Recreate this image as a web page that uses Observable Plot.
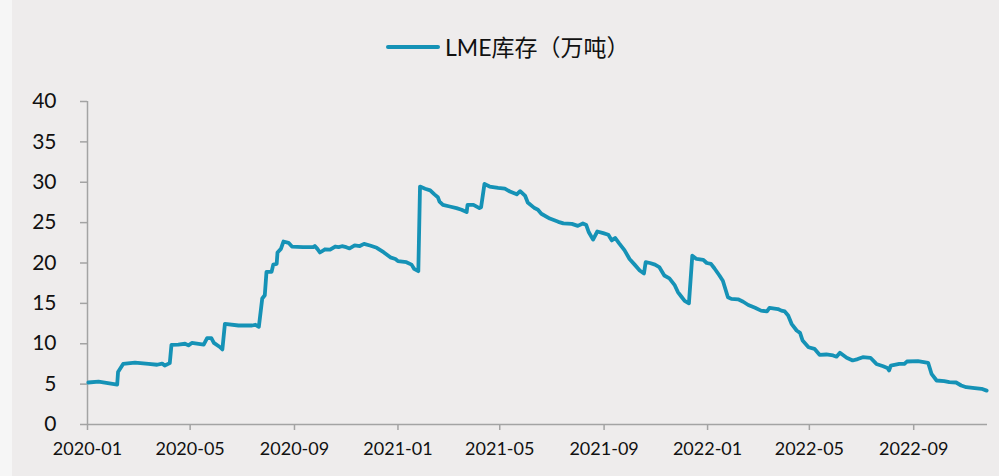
<!DOCTYPE html>
<html>
<head>
<meta charset="utf-8">
<script src="https://cdn.jsdelivr.net/npm/d3@7"></script>
<script src="https://cdn.jsdelivr.net/npm/@observablehq/plot@0.6"></script>
<style>
  html, body { margin: 0; padding: 0; }
  body { width: 999px; height: 476px; background: #f6f6f6; overflow: hidden; font-family: Lato, "Noto Sans", sans-serif; }
  #panel { position: absolute; left: 12px; top: 0; width: 987px; height: 476px; background: #eeecec; }
  #legend { position: absolute; left: 0; top: 0; width: 999px; height: 80px; }
  #swatch { position: absolute; left: 386px; top: 45px; width: 54px; height: 4px; background: #1592b6; border-radius: 2px; }
  #ltext { position: absolute; left: 445px; top: 32px; font-size: 23px; line-height: 30px; color: #111; font-family: Lato, "Noto Sans CJK SC", sans-serif; white-space: nowrap; }
  #chart { position: absolute; left: 0; top: 80px; }
</style>
</head>
<body>
<div id="panel"></div>
<div id="legend"><div id="swatch"></div><div id="ltext">LME库存（万吨）</div></div>
<div id="chart"></div>
<script>
const seriesName = "LME库存（万吨）";
const dates = [
  "2020-01-02","2020-01-14","2020-02-05","2020-02-06","2020-02-12","2020-02-26","2020-03-13","2020-03-23","2020-03-29","2020-04-01",
  "2020-04-07","2020-04-09","2020-04-17","2020-04-25","2020-04-29","2020-05-03","2020-05-17","2020-05-21","2020-05-26","2020-05-29",
  "2020-06-05","2020-06-08","2020-06-11","2020-06-27","2020-07-13","2020-07-17","2020-07-21","2020-07-25","2020-07-28","2020-07-30",
  "2020-08-05","2020-08-07","2020-08-11","2020-08-12","2020-08-16","2020-08-19","2020-08-25","2020-08-29","2020-09-11","2020-09-23",
  "2020-09-25","2020-09-28","2020-10-01","2020-10-07","2020-10-13","2020-10-19","2020-10-23","2020-10-27","2020-11-01","2020-11-05",
  "2020-11-11","2020-11-17","2020-11-22","2020-11-29","2020-12-07","2020-12-15","2020-12-23","2020-12-29","2021-01-01","2021-01-11",
  "2021-01-17","2021-01-20","2021-01-25","2021-01-27","2021-02-02","2021-02-08","2021-02-13","2021-02-17","2021-02-19","2021-02-23",
  "2021-03-03","2021-03-11","2021-03-17","2021-03-23","2021-03-24","2021-03-31","2021-04-07","2021-04-09","2021-04-13","2021-04-19",
  "2021-04-29","2021-05-07","2021-05-13","2021-05-21","2021-05-25","2021-05-31","2021-06-03","2021-06-11","2021-06-15","2021-06-19",
  "2021-06-29","2021-07-09","2021-07-15","2021-07-25","2021-08-01","2021-08-07","2021-08-11","2021-08-14","2021-08-19","2021-08-24",
  "2021-08-31","2021-09-06","2021-09-10","2021-09-14","2021-09-19","2021-09-25","2021-10-01","2021-10-07","2021-10-13","2021-10-18",
  "2021-10-20","2021-10-25","2021-10-31","2021-11-05","2021-11-11","2021-11-17","2021-11-23","2021-11-27","2021-12-01","2021-12-05",
  "2021-12-10","2021-12-14","2021-12-19","2021-12-27","2021-12-31","2022-01-05","2022-01-09","2022-01-15","2022-01-19","2022-01-25",
  "2022-01-29","2022-02-06","2022-02-12","2022-02-18","2022-02-26","2022-03-05","2022-03-12","2022-03-15","2022-03-25","2022-03-29",
  "2022-04-02","2022-04-06","2022-04-10","2022-04-16","2022-04-20","2022-04-23","2022-04-30","2022-05-07","2022-05-13","2022-05-21",
  "2022-05-29","2022-06-02","2022-06-06","2022-06-14","2022-06-21","2022-06-27","2022-07-03","2022-07-12","2022-07-19","2022-07-27",
  "2022-08-01","2022-08-03","2022-08-05","2022-08-15","2022-08-21","2022-08-24","2022-09-06","2022-09-18","2022-09-22","2022-09-28",
  "2022-10-07","2022-10-13","2022-10-21","2022-10-27","2022-11-02","2022-11-12","2022-11-20","2022-11-26"
];
const values = [
  5.2,5.3,4.95,6.5,7.5,7.65,7.5,7.4,7.55,7.3,
  7.6,9.87,9.9,10.0,9.8,10.1,9.9,10.7,10.7,10.1,
  9.6,9.3,12.47,12.26,12.26,12.35,12.1,15.6,16.0,18.9,
  18.9,19.8,19.9,21.3,21.75,22.66,22.5,22.04,21.96,21.96,
  22.1,21.75,21.3,21.7,21.65,22.04,21.96,22.08,21.96,21.8,
  22.17,22.1,22.37,22.17,21.88,21.34,20.7,20.5,20.23,20.1,
  19.8,19.28,18.99,29.47,29.2,29.0,28.5,28.15,27.6,27.2,
  27.0,26.8,26.6,26.3,27.2,27.2,26.8,26.9,29.8,29.47,
  29.3,29.2,28.85,28.5,28.9,28.3,27.5,26.8,26.6,26.1,
  25.5,25.1,24.9,24.85,24.6,24.9,24.7,23.8,22.9,23.9,
  23.7,23.5,22.8,23.1,22.4,21.6,20.5,19.8,19.07,18.7,
  20.1,20.0,19.8,19.5,18.45,18.1,17.3,16.4,15.85,15.3,
  15.0,20.9,20.5,20.4,20.0,19.9,19.35,18.45,17.8,15.76,
  15.56,15.5,15.2,14.8,14.45,14.1,14.0,14.45,14.3,14.1,
  14.0,13.5,12.47,11.64,11.35,10.4,9.57,9.37,8.63,8.67,
  8.55,8.4,8.88,8.26,7.93,8.1,8.34,8.26,7.5,7.22,
  7.0,6.69,7.3,7.5,7.5,7.8,7.84,7.64,6.28,5.45,
  5.37,5.24,5.2,4.83,4.62,4.5,4.42,4.2
];
const yTicks = [0,5,10,15,20,25,30,35,40];
const xTickLabels = ["2020-01","2020-05","2020-09","2021-01","2021-05","2021-09","2022-01","2022-05","2022-09"];
const xDomain = ["2020-01-01","2022-11-27"];

const parse = d3.utcParse("%Y-%m-%d");
const parseM = d3.utcParse("%Y-%m");
const data = dates.map((d, i) => ({date: parse(d), value: values[i]}));
const xTicks = xTickLabels.map(parseM);

const axisColor = "#a3a3a3";
const lineColor = "#1592b6";

const chart = Plot.plot({
  width: 999,
  height: 396,
  marginLeft: 87,
  marginRight: 12,
  marginTop: 21,
  marginBottom: 52,
  style: {background: "transparent", overflow: "visible", fontFamily: "Lato, 'Noto Sans', sans-serif", color: "#111"},
  x: {type: "utc", domain: xDomain.map(parse)},
  y: {domain: [0, 40]},
  marks: [
    Plot.ruleX([parse(xDomain[0])], {y1: 0, y2: 40, stroke: axisColor, strokeWidth: 1.5}),
    Plot.ruleY([0], {stroke: axisColor, strokeWidth: 1.5}),
    Plot.axisY({ticks: yTicks, tickSize: 7, tickPadding: 24, stroke: axisColor, strokeWidth: 1.5, fontSize: 21, fill: "#111", label: null}),
    Plot.axisX({ticks: xTicks, tickFormat: d3.utcFormat("%Y-%m"), tickSize: 6, tickPadding: 12, stroke: axisColor, strokeWidth: 1.5, fontSize: 18, fill: "#111", label: null}),
    Plot.lineY(data, {x: "date", y: "value", stroke: lineColor, strokeWidth: 3.8, strokeLinejoin: "round", strokeLinecap: "round"})
  ]
});
document.getElementById("chart").appendChild(chart);
</script>
</body>
</html>
